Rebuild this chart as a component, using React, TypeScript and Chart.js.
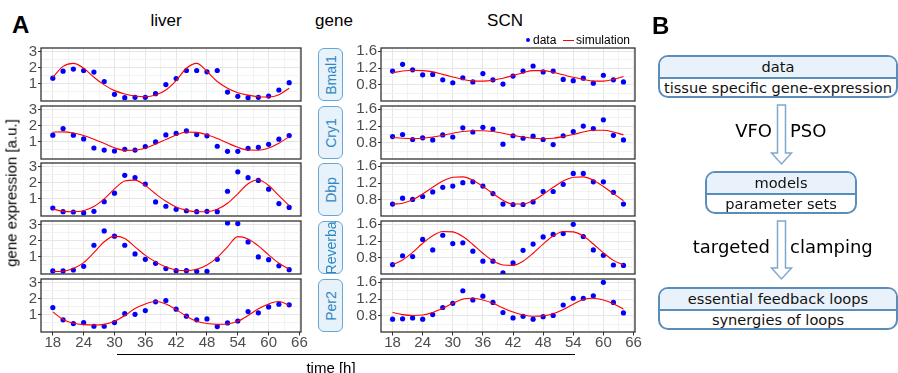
import React, { useEffect, useRef } from "react";
import { Chart, registerables } from "chart.js";

Chart.register(...registerables);
Chart.defaults.font.family = "'Liberation Sans', Arial, Helvetica, sans-serif";

// ---------------- data ----------------
const TIMES = [18, 20, 22, 24, 26, 28, 30, 32, 34, 36, 38, 40, 42, 44, 46, 48, 50, 52, 54, 56, 58, 60, 62, 64];
const X_MAJOR = [18, 24, 30, 36, 42, 48, 54, 60, 66];
const X_MINOR = [21, 27, 33, 39, 45, 51, 57, 63];
const LIVER_Y_MAJOR = [1, 2, 3];
const LIVER_Y_MINOR = [0.5, 1.5, 2.5];
const SCN_Y_MAJOR = [0.8, 1.2, 1.6];
const SCN_Y_MINOR = [0.6, 1.0, 1.4];
const GENES = ["Bmal1", "Cry1", "Dbp", "Reverba", "Per2"];

const LIVER_BMAL1_DATA = [1.36, 1.80, 1.93, 1.84, 1.74, 1.15, 0.35, 0.14, 0.16, 0.16, 0.39, 0.96, 1.34, 1.84, 1.84, 1.76, 1.84, 0.49, 0.22, 0.14, 0.16, 0.24, 0.62, 1.08];
const LIVER_BMAL1_SIM = [1.42, 2.10, 2.29, 1.99, 1.42, 0.94, 0.58, 0.37, 0.24, 0.20, 0.30, 0.62, 1.21, 1.98, 2.29, 1.78, 1.15, 0.73, 0.45, 0.30, 0.20, 0.18, 0.32, 0.73];
const LIVER_CRY1_DATA = [1.42, 1.84, 1.42, 1.19, 0.62, 0.49, 0.43, 0.54, 0.49, 0.71, 1.00, 1.44, 1.53, 1.69, 1.46, 1.38, 0.73, 0.41, 0.41, 0.60, 0.66, 0.85, 1.17, 1.40];
const LIVER_CRY1_SIM = [1.61, 1.63, 1.56, 1.40, 1.17, 0.90, 0.63, 0.47, 0.48, 0.62, 0.87, 1.15, 1.43, 1.62, 1.60, 1.45, 1.21, 0.93, 0.66, 0.49, 0.48, 0.62, 0.92, 1.33];
const LIVER_DBP_DATA = [0.43, 0.20, 0.18, 0.12, 0.22, 0.83, 1.36, 2.48, 2.33, 1.93, 0.81, 0.54, 0.35, 0.26, 0.20, 0.22, 0.20, 1.48, 2.70, 2.33, 2.16, 1.61, 0.71, 0.47];
const LIVER_DBP_SIM = [0.37, 0.22, 0.20, 0.26, 0.52, 1.00, 1.63, 2.12, 2.18, 1.84, 1.32, 0.85, 0.50, 0.30, 0.20, 0.20, 0.35, 0.73, 1.32, 1.95, 2.20, 1.84, 1.21, 0.58];
const LIVER_REVERBA_DATA = [0.12, 0.12, 0.18, 0.41, 1.73, 2.63, 2.30, 1.73, 1.19, 0.85, 0.60, 0.27, 0.14, 0.14, 0.10, 0.10, 0.85, 3.13, 3.09, 1.94, 1.00, 0.83, 0.44, 0.20];
const LIVER_REVERBA_SIM = [0.08, 0.10, 0.27, 0.64, 1.27, 1.95, 2.30, 2.15, 1.63, 1.10, 0.69, 0.37, 0.18, 0.14, 0.23, 0.50, 0.96, 1.63, 2.27, 2.12, 1.69, 1.13, 0.60, 0.25];
const LIVER_PER2_DATA = [1.46, 0.69, 0.46, 0.52, 0.29, 0.29, 0.52, 1.08, 1.04, 1.27, 1.82, 1.90, 1.36, 0.92, 0.69, 0.75, 0.27, 0.50, 0.62, 1.21, 1.13, 1.50, 1.67, 1.63];
const LIVER_PER2_SIM = [1.19, 0.71, 0.48, 0.39, 0.37, 0.41, 0.60, 0.96, 1.40, 1.69, 1.84, 1.69, 1.33, 0.92, 0.60, 0.46, 0.41, 0.43, 0.60, 0.96, 1.38, 1.69, 1.84, 1.61];

const SCN_BMAL1_DATA = [1.13, 1.29, 1.16, 1.04, 1.05, 0.92, 0.85, 0.97, 0.87, 1.07, 0.92, 0.82, 1.01, 1.13, 1.25, 1.11, 1.13, 0.93, 0.90, 0.96, 0.84, 1.03, 0.92, 0.87];
const SCN_BMAL1_SIM = [1.09, 1.13, 1.15, 1.14, 1.11, 1.05, 0.99, 0.93, 0.895, 0.89, 0.91, 0.96, 1.02, 1.09, 1.14, 1.14, 1.10, 1.04, 0.98, 0.93, 0.89, 0.89, 0.93, 1.00];
const SCN_CRY1_DATA = [0.95, 1.00, 0.88, 0.92, 0.87, 0.99, 0.94, 1.16, 1.06, 1.17, 1.13, 0.77, 0.97, 0.91, 0.96, 0.88, 0.76, 0.97, 1.07, 1.20, 1.14, 1.35, 0.98, 0.87];
const SCN_CRY1_SIM = [0.93, 0.91, 0.90, 0.91, 0.94, 0.98, 1.03, 1.07, 1.09, 1.09, 1.07, 1.03, 0.98, 0.94, 0.91, 0.90, 0.91, 0.95, 1.00, 1.06, 1.10, 1.10, 1.06, 0.99];
const SCN_DBP_DATA = [0.70, 0.84, 0.81, 0.88, 0.99, 1.10, 1.13, 1.21, 1.23, 1.13, 0.95, 0.70, 0.69, 0.69, 0.75, 1.00, 1.00, 1.17, 1.43, 1.43, 1.23, 1.23, 0.98, 0.70];
const SCN_DBP_SIM = [0.70, 0.72, 0.80, 0.94, 1.10, 1.25, 1.34, 1.35, 1.27, 1.12, 0.95, 0.79, 0.70, 0.70, 0.78, 0.93, 1.10, 1.25, 1.34, 1.35, 1.27, 1.12, 0.95, 0.78];
const SCN_REVERBA_DATA = [0.64, 0.85, 0.83, 1.24, 0.99, 1.34, 1.14, 1.16, 0.96, 0.72, 0.72, 0.44, 0.68, 0.98, 1.13, 1.30, 1.36, 1.38, 1.60, 1.31, 0.99, 0.86, 0.63, 0.62];
const SCN_REVERBA_SIM = [0.64, 0.75, 0.93, 1.15, 1.33, 1.43, 1.42, 1.31, 1.12, 0.91, 0.73, 0.63, 0.62, 0.72, 0.91, 1.13, 1.32, 1.43, 1.42, 1.32, 1.13, 0.92, 0.74, 0.63];
const SCN_PER2_DATA = [0.72, 0.73, 0.75, 0.72, 0.83, 1.00, 1.10, 1.40, 1.18, 1.27, 1.12, 0.88, 0.75, 0.79, 0.72, 0.78, 0.81, 1.06, 1.22, 1.22, 1.28, 1.60, 1.12, 0.87];
const SCN_PER2_SIM = [0.88, 0.83, 0.81, 0.82, 0.88, 0.98, 1.10, 1.20, 1.22, 1.18, 1.10, 0.99, 0.89, 0.82, 0.79, 0.80, 0.85, 0.95, 1.08, 1.19, 1.22, 1.18, 1.09, 0.96];

const LIVER_SERIES = [
  [LIVER_BMAL1_DATA, LIVER_BMAL1_SIM],
  [LIVER_CRY1_DATA, LIVER_CRY1_SIM],
  [LIVER_DBP_DATA, LIVER_DBP_SIM],
  [LIVER_REVERBA_DATA, LIVER_REVERBA_SIM],
  [LIVER_PER2_DATA, LIVER_PER2_SIM],
];
const SCN_SERIES = [
  [SCN_BMAL1_DATA, SCN_BMAL1_SIM],
  [SCN_CRY1_DATA, SCN_CRY1_SIM],
  [SCN_DBP_DATA, SCN_DBP_SIM],
  [SCN_REVERBA_DATA, SCN_REVERBA_SIM],
  [SCN_PER2_DATA, SCN_PER2_SIM],
];

// ---------------- layout ----------------
const ROW_TOPS = [48, 106, 163, 221, 279];
const PANEL_H = 53;
const PAD = 10;
const XH = 22;
const TICK_FONT = 15;

type Tissue = {
  left: number; width: number; yW: number; yMin: number; yMax: number;
  major: number[]; minor: number[]; fmt: (v: number) => string;
};
const LIVER: Tissue = { left: 41, width: 260, yW: 41, yMin: -0.07, yMax: 3.25, major: LIVER_Y_MAJOR, minor: LIVER_Y_MINOR, fmt: (v) => String(v) };
const SCN: Tissue = { left: 381, width: 254, yW: 32, yMin: 0.415, yMax: 1.68, major: SCN_Y_MAJOR, minor: SCN_Y_MINOR, fmt: (v) => v.toFixed(1) };

const GRID_MAJOR = "#e6e6e6";
const GRID_MINOR = "#f2f2f2";

const borderPlugin = {
  id: "panelBorder",
  afterDraw(chart: any) {
    const { ctx, chartArea: a } = chart;
    ctx.save();
    ctx.strokeStyle = "#333333";
    ctx.lineWidth = 1.3;
    ctx.strokeRect(a.left, a.top, a.right - a.left, a.bottom - a.top);
    ctx.restore();
  },
};

function Panel({ tissue, row, data, sim }: { tissue: Tissue; row: number; data: number[]; sim: number[] }) {
  const ref = useRef<HTMLCanvasElement>(null);
  const bottom = row === ROW_TOPS.length - 1;
  const cw = tissue.yW + tissue.width + PAD;
  const ch = PAD + PANEL_H + (bottom ? XH : 0) + PAD;
  useEffect(() => {
    const xAll = [...X_MAJOR, ...X_MINOR].sort((a, b) => a - b);
    const yAll = [...tissue.major, ...tissue.minor].sort((a, b) => a - b);
    const chart = new Chart(ref.current as HTMLCanvasElement, {
      type: "line",
      data: {
        datasets: [
          {
            data: TIMES.map((t, i) => ({ x: t, y: sim[i] })),
            borderColor: "#ff0000",
            borderWidth: 1.1,
            pointRadius: 0,
            cubicInterpolationMode: "monotone",
            fill: false,
            order: 0,
          },
          {
            data: TIMES.map((t, i) => ({ x: t, y: data[i] })),
            showLine: false,
            pointRadius: 2.6,
            pointBackgroundColor: "#0000ff",
            pointBorderWidth: 0,
            borderColor: "#0000ff",
            order: 1,
          },
        ],
      } as any,
      options: {
        animation: false,
        responsive: false,
        events: [],
        layout: { padding: { left: 0, top: PAD, right: PAD, bottom: PAD } },
        plugins: { legend: { display: false }, tooltip: { enabled: false } },
        scales: {
          x: {
            type: "linear",
            min: 15.7,
            max: 66.3,
            afterBuildTicks: (s: any) => { s.ticks = xAll.map((v) => ({ value: v })); },
            afterFit: (s: any) => { s.height = bottom ? XH : 0; s.paddingLeft = 0; s.paddingRight = 0; },
            ticks: {
              display: bottom,
              autoSkip: false,
              maxRotation: 0,
              padding: 0,
              color: "#4d4d4d",
              font: { size: TICK_FONT, lineHeight: 1 },
              callback: (v: any) => (X_MAJOR.includes(v) ? String(v) : ""),
            },
            grid: {
              color: (c: any) => (X_MAJOR.includes(c.tick?.value) ? GRID_MAJOR : GRID_MINOR),
              lineWidth: 1,
              drawTicks: bottom,
              tickLength: 3.5,
              tickColor: (c: any) => (X_MAJOR.includes(c.tick?.value) ? "#333333" : "rgba(0,0,0,0)"),
            },
            border: { display: false },
          },
          y: {
            type: "linear",
            min: tissue.yMin,
            max: tissue.yMax,
            afterBuildTicks: (s: any) => { s.ticks = yAll.map((v) => ({ value: v })); },
            afterFit: (s: any) => { s.width = tissue.yW; s.paddingTop = 0; s.paddingBottom = 0; },
            ticks: {
              autoSkip: false,
              padding: 1,
              color: "#4d4d4d",
              font: { size: TICK_FONT, lineHeight: 1 },
              callback: (v: any) => (tissue.major.includes(v) ? tissue.fmt(v) : ""),
            },
            grid: {
              color: (c: any) => (tissue.major.includes(c.tick?.value) ? GRID_MAJOR : GRID_MINOR),
              lineWidth: 1,
              drawTicks: true,
              tickLength: 3,
              tickColor: (c: any) => (tissue.major.includes(c.tick?.value) ? "#333333" : "rgba(0,0,0,0)"),
            },
            border: { display: false },
          },
        },
      } as any,
      plugins: [borderPlugin],
    });
    return () => chart.destroy();
  }, []);
  return (
    <canvas
      ref={ref}
      width={cw}
      height={ch}
      style={{ position: "absolute", left: tissue.left - tissue.yW, top: ROW_TOPS[row] - PAD, width: cw, height: ch }}
    />
  );
}

function Txt({ x, y, children, size, anchor = "middle", family, weight, color = "#000", rotate = false }: any) {
  const tx = anchor === "start" ? "0" : anchor === "end" ? "-100%" : "-50%";
  return (
    <div
      style={{
        position: "absolute",
        left: x,
        top: y,
        transform: `translate(${tx}, -50%)${rotate ? " rotate(-90deg)" : ""}`,
        fontSize: size,
        fontFamily: family || "'Liberation Sans', Arial, sans-serif",
        fontWeight: weight || "normal",
        color,
        lineHeight: 1,
        whiteSpace: "nowrap",
      }}
    >
      {children}
    </div>
  );
}

const FLOW_C = "#5b8dbb";
const FLOW_FILL = "#e9f1fa";
const FLOW_FONT = "'DejaVu Sans', Verdana, sans-serif";

function FlowBox({ left, top, width, height, split, a, b }: any) {
  return (
    <div
      style={{
        position: "absolute", left, top, width, height, boxSizing: "border-box",
        border: `2px solid ${FLOW_C}`, borderRadius: 10, overflow: "hidden", background: "#fff",
        display: "flex", flexDirection: "column", fontFamily: FLOW_FONT, fontSize: 14.6, color: "#111",
      }}
    >
      <div style={{ height: split, boxSizing: "border-box", background: FLOW_FILL, borderBottom: `2px solid ${FLOW_C}`, display: "flex", alignItems: "center", justifyContent: "center", whiteSpace: "nowrap" }}>{a}</div>
      <div style={{ flex: 1, display: "flex", alignItems: "center", justifyContent: "center", whiteSpace: "nowrap" }}>{b}</div>
    </div>
  );
}

function arrowPath(cx: number, y0: number, y1: number) {
  const sw = 4, hw = 10, hl = 11;
  return `M${cx - sw},${y0} L${cx + sw},${y0} L${cx + sw},${y1 - hl} L${cx + hw},${y1 - hl} L${cx},${y1} L${cx - hw},${y1 - hl} L${cx - sw},${y1 - hl} Z`;
}

export default function App() {
  return (
    <div style={{ position: "absolute", left: 0, top: 0, width: 898, height: 373, overflow: "hidden", background: "#fff" }}>
      {LIVER_SERIES.map(([d, s], i) => (
        <Panel key={"l" + i} tissue={LIVER} row={i} data={d} sim={s} />
      ))}
      {SCN_SERIES.map(([d, s], i) => (
        <Panel key={"s" + i} tissue={SCN} row={i} data={d} sim={s} />
      ))}

      {GENES.map((g, i) => (
        <div
          key={g}
          style={{
            position: "absolute", left: 318, top: ROW_TOPS[i], width: 25, height: PANEL_H, boxSizing: "border-box",
            border: "1.3px solid #6aa6d3", borderRadius: 6, background: "#e8f2fb", overflow: "hidden",
          }}
        >
          <div
            style={{
              position: "absolute", left: "50%", top: "50%", transform: "translate(-50%, -50%) rotate(-90deg)",
              fontSize: 14, color: "#2f87c2", fontFamily: "'Liberation Sans', Arial, sans-serif", whiteSpace: "nowrap", lineHeight: 1,
            }}
          >
            {g}
          </div>
        </div>
      ))}

      <Txt x={12} y={25} size={24} weight="bold" anchor="start">A</Txt>
      <Txt x={166} y={20} size={17}>liver</Txt>
      <Txt x={334} y={20} size={17}>gene</Txt>
      <Txt x={505} y={20} size={17}>SCN</Txt>
      <Txt x={11} y={193} size={15} rotate>gene expression [a.u.]</Txt>

      {/* legend */}
      <div style={{ position: "absolute", left: 526.3, top: 38, width: 4, height: 4, borderRadius: 2, background: "#0000ff" }} />
      <Txt x={533} y={40} size={12} anchor="start">data</Txt>
      <div style={{ position: "absolute", left: 563, top: 39.5, width: 11, height: 1.2, background: "#ff0000" }} />
      <Txt x={576} y={40} size={12} anchor="start">simulation</Txt>

      <div style={{ position: "absolute", left: 117, top: 354, width: 458, height: 1.3, background: "#000" }} />
      <Txt x={331} y={367} size={15}>time [h]</Txt>

      {/* panel B */}
      <Txt x={652} y={26} size={24} weight="bold" anchor="start">B</Txt>
      <FlowBox left={658} top={55} width={240} height={43} split={21.5} a="data" b="tissue specific gene-expression" />
      <FlowBox left={705} top={171} width={152} height={43} split={21.5} a="models" b="parameter sets" />
      <FlowBox left={658} top={287} width={240} height={43} split={21.5} a="essential feedback loops" b="synergies of loops" />
      <svg width={898} height={373} style={{ position: "absolute", left: 0, top: 0 }}>
        <path d={arrowPath(781.5, 105, 164)} fill="#fff" stroke="#7ea9cf" strokeWidth={1.5} />
        <path d={arrowPath(781.5, 221, 279)} fill="#fff" stroke="#7ea9cf" strokeWidth={1.5} />
      </svg>
      <Txt x={772} y={131} size={18} family={FLOW_FONT} anchor="end">VFO</Txt>
      <Txt x={790} y={131} size={18} family={FLOW_FONT} anchor="start">PSO</Txt>
      <Txt x={770} y={247} size={18} family={FLOW_FONT} anchor="end">targeted</Txt>
      <Txt x={790} y={247} size={18} family={FLOW_FONT} anchor="start">clamping</Txt>
    </div>
  );
}
